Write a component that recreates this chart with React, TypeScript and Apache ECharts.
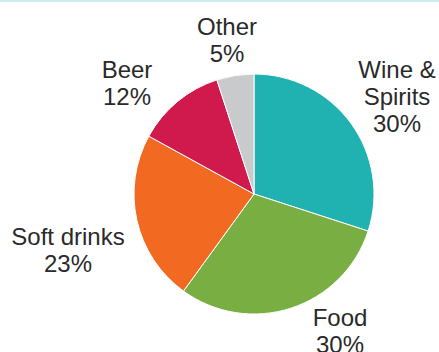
import React, { useEffect, useRef } from "react";
import * as echarts from "echarts";

const categories = ["Wine & Spirits", "Food", "Soft drinks", "Beer", "Other"];
const shares = [30, 30, 23, 12, 5];
const colors = ["#1FB2B0", "#79AF42", "#F26A22", "#D01A4D", "#C9CACC"];
// label anchor points (centre of each label block)
const labelAnchors: [number, number][] = [
  [397, 96],
  [340, 331],
  [68, 250],
  [127, 83],
  [227, 40],
];

export default function App() {
  const ref = useRef<HTMLDivElement>(null);
  useEffect(() => {
    if (!ref.current) return;
    const chart = echarts.init(ref.current, undefined, { renderer: "svg" });
    chart.setOption({
      animation: false,
      backgroundColor: "#ffffff",
      graphic: [
        {
          type: "rect",
          left: 0,
          top: 0,
          shape: { width: 439, height: 2 },
          style: { fill: "#cdeef0" },
        },
      ],
      series: [
        {
          type: "pie",
          center: [254, 194],
          radius: 120,
          startAngle: 90,
          clockwise: true,
          itemStyle: { borderColor: "#ffffff", borderWidth: 1 },
          label: {
            show: true,
            position: "outside",
            overflow: "none",
            alignTo: "none",
            fontFamily: "Liberation Sans, Arial, sans-serif",
            fontSize: 24,
            lineHeight: 27,
            color: "#2a2a2a",
            align: "center",
            formatter: (p: any) =>
              (p.name === "Wine & Spirits" ? "Wine &\nSpirits" : p.name) + "\n" + p.value + "%",
          },
          labelLine: { show: false },
          labelLayout: (params: any) => {
            const a = labelAnchors[params.dataIndex];
            return { x: a[0], y: a[1], align: "center", verticalAlign: "middle" };
          },
          emphasis: { disabled: true },
          data: categories.map((name, i) => ({
            name,
            value: shares[i],
            itemStyle: { color: colors[i] },
          })),
        },
      ],
    });
    return () => chart.dispose();
  }, []);
  return (
    <div
      ref={ref}
      style={{ position: "fixed", left: 0, top: 0, width: 439, height: 352 }}
    />
  );
}
